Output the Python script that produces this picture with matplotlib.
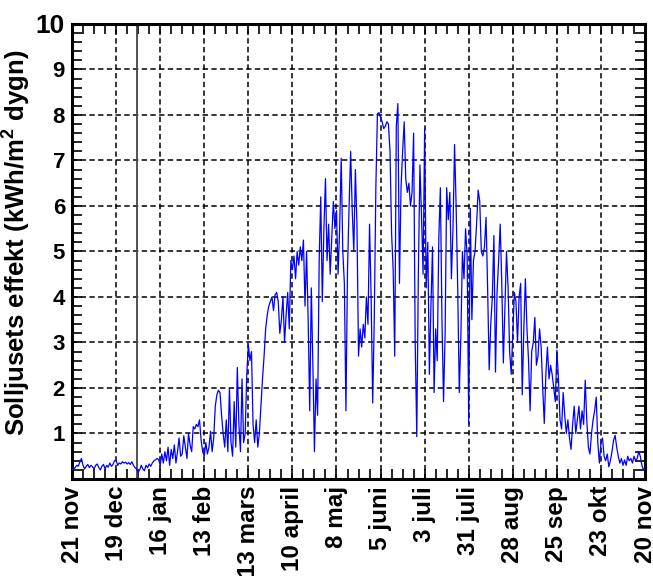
import matplotlib.pyplot as plt
from matplotlib.ticker import MultipleLocator
import numpy as np

plt.rcParams['font.family'] = ['Liberation Sans', 'DejaVu Sans']
plt.rcParams['font.weight'] = 'bold'
plt.rcParams['mathtext.fontset'] = 'custom'
plt.rcParams['mathtext.rm'] = 'Liberation Sans:bold'
plt.rcParams['mathtext.bf'] = 'Liberation Sans:bold'

# daily solar energy, 21 nov .. 20 nov, one row per 28 days (kWh/m2 per day)
p01 = [0.2, 0.22, 0.25, 0.3, 0.28, 0.38, 0.45, 0.3, 0.22, 0.28, 0.32, 0.25, 0.3, 0.27,
       0.22, 0.3, 0.33, 0.25, 0.2, 0.28, 0.32, 0.22, 0.3, 0.26, 0.35, 0.28, 0.32, 0.4]
p02 = [0.42, 0.3, 0.35, 0.33, 0.38, 0.35, 0.37, 0.33, 0.36, 0.32, 0.38, 0.3, 0.25, 0.22,
       0.15, 0.2, 0.3, 0.22, 0.18, 0.3, 0.25, 0.33, 0.28, 0.35, 0.4, 0.42, 0.45, 0.43]
p03 = [0.3, 0.55, 0.35, 0.6, 0.4, 0.7, 0.3, 0.65, 0.45, 0.75, 0.35, 0.6, 0.9, 0.5,
       0.55, 0.95, 0.7, 0.45, 1.0, 0.75, 0.6, 1.15, 1.1, 1.2, 1.15, 1.3, 0.85, 0.6]
p04 = [0.5, 0.8, 0.55, 0.7, 1.05, 0.6, 0.9, 1.6, 1.85, 1.95, 1.9, 1.4, 1.0, 0.7,
       1.3, 0.6, 2.0, 0.8, 0.5, 1.7, 0.7, 2.45, 1.2, 0.6, 2.2, 0.8, 1.0, 2.3]
p05 = [2.95, 2.6, 2.8, 1.2, 0.8, 1.3, 0.7, 1.0, 1.6, 2.2, 2.7, 3.3, 3.6, 3.8,
       3.9, 4.0, 3.7, 4.05, 4.1, 3.9, 3.2, 3.5, 4.0, 3.0, 3.6, 4.1, 3.3, 4.8]
p06 = [4.6, 4.9, 4.4, 5.0, 4.7, 5.1, 4.8, 5.25, 3.8, 5.0, 3.5, 1.5, 4.2, 2.5,
       0.6, 2.2, 1.4, 4.8, 6.2, 3.9, 5.5, 6.6, 4.8, 5.6, 4.5, 5.3, 6.1, 5.5]
p07 = [5.9, 4.5, 5.5, 7.05, 5.0, 4.3, 1.5, 4.6, 6.0, 7.2, 5.9, 5.0, 6.8, 5.6,
       2.7, 3.3, 2.9, 3.4, 3.1, 4.0, 3.4, 5.6, 4.0, 1.67, 3.5, 6.4, 8.03, 8.05]
p08 = [7.95, 7.85, 7.7, 7.75, 7.85, 7.8, 7.2, 5.4, 4.6, 2.7, 7.75, 8.25, 4.3, 6.4,
       7.2, 7.85, 6.6, 6.3, 6.5, 6.0, 6.3, 7.6, 3.0, 0.93, 4.5, 6.9, 5.8, 4.5]
p09 = [7.7, 4.2, 5.2, 2.3, 3.8, 5.1, 1.9, 3.3, 2.6, 5.3, 6.4, 3.5, 1.7, 3.2,
       6.4, 5.7, 6.3, 4.4, 5.5, 7.35, 6.0, 4.2, 1.9, 3.1, 5.0, 4.4, 5.5, 4.9]
p10 = [1.22, 5.95, 3.5, 4.8, 5.0, 5.6, 6.35, 6.1, 5.0, 4.9, 5.1, 5.75, 4.2, 2.4,
       3.4, 4.0, 5.35, 2.35, 4.1, 4.8, 5.6, 4.3, 2.55, 3.8, 5.0, 4.2, 2.8, 2.3]
p11 = [3.2, 4.1, 3.9, 3.0, 4.0, 4.3, 1.85, 3.3, 4.4, 3.3, 2.6, 1.5, 2.8, 3.0,
       3.55, 2.5, 2.7, 3.3, 2.9, 2.0, 1.22, 2.3, 2.9, 2.2, 2.5, 2.3, 2.0, 1.7]
p12 = [2.83, 2.2, 1.3, 1.1, 1.9, 1.4, 1.0, 1.3, 0.9, 0.65, 1.2, 1.6, 1.0, 1.3,
       1.6, 1.1, 1.5, 1.2, 2.17, 1.3, 0.7, 0.55, 1.0, 1.3, 1.5, 1.8, 0.8, 0.35]
p13 = [0.8, 0.9, 0.5, 0.4, 0.55, 0.27, 0.4, 0.6, 0.85, 0.96, 0.7, 0.5, 0.35, 0.45,
       0.3, 0.42, 0.3, 0.5, 0.4, 0.45, 0.35, 0.5, 0.4, 0.45, 0.6, 0.5, 0.3, 0.2, 0.25]

values = p01 + p02 + p03 + p04 + p05 + p06 + p07 + p08 + p09 + p10 + p11 + p12 + p13
days = np.arange(len(values))

date_labels = ["21 nov", "19 dec", "16 jan", "13 feb", "13 mars", "10 april", "8 maj",
               "5 juni", "3 juli", "31 juli", "28 aug", "25 sep", "23 okt", "20 nov"]
new_year = 41  # 1 jan

fig = plt.figure(figsize=(6.53, 5.76), dpi=100)
ax = fig.add_axes([0.1103, 0.1684, 0.8775, 0.79])

ax.plot(days, values, color="#0000ff", lw=0.9, zorder=3)
ax.axvline(new_year, color="#444444", lw=1.3, zorder=2)

ax.set_xlim(0, 364)
ax.set_ylim(0, 10)
ax.set_xticks(np.arange(0, 365, 28))
ax.set_xticklabels(date_labels, rotation=90, fontsize=17.5, fontweight="bold")
ax.set_yticks(np.arange(1, 11))
ax.set_yticklabels([str(i) for i in range(1, 11)], fontsize=16, fontweight="bold")
ax.get_yticklabels()[-1].set_fontsize(19)
ax.xaxis.set_minor_locator(MultipleLocator(7))
ax.yaxis.set_minor_locator(MultipleLocator(0.2))
ax.tick_params(which="both", direction="in", top=True, right=True, width=1.2, length=7)
ax.tick_params(axis="y", which="major", pad=5)
ax.tick_params(axis="x", which="major", pad=5)

ax.grid(True, which="major", color="black", lw=1.1, linestyle=(0, (3.5, 2.2)))
for s in ax.spines.values():
    s.set_linewidth(2.2)

ax.set_ylabel(r"Solljusets effekt (kWh/m$^\mathbf{2}$ dygn)", fontsize=18.5, fontweight="bold")
ax.yaxis.set_label_coords(-0.07, 0.52)

fig.savefig("out.png", dpi=100)
